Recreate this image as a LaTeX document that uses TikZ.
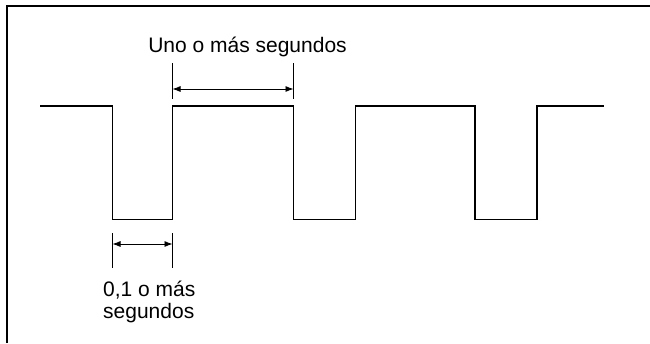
\documentclass[tikz,border=0pt]{standalone}
\usepackage{fontspec}
\setmainfont{Liberation Sans}
\usetikzlibrary{arrows.meta,positioning}
\tikzset{
  wave/.style={line width=1.6pt,black,line join=miter},
  frame/.style={line width=1.6pt,black},
  extline/.style={line width=0.8pt,black},
  dimarr/.style={{Latex[length=8pt,width=6pt]}-{Latex[length=8pt,width=6pt]},line width=0.8pt,black},
  lbl/.style={font=\fontsize{21}{22}\selectfont,align=left,inner sep=0pt}
}

\begin{document}
\begin{tikzpicture}[x=1pt,y=-1pt]
  \useasboundingbox (0,0) rectangle (650,343);
  \draw[frame] (7,343) -- (7,6) -- (650,6);
  % pulse edges
  \coordinate (f1) at (112.5,106);
  \coordinate (r1) at (172.5,106);
  \coordinate (f2) at (293.5,106);
  \coordinate (r2) at (355.5,106);
  \coordinate (f3) at (475,106);
  \coordinate (r3) at (537,106);
  \draw[wave] (40,106) -- (f1) -- ++(0,113.5) -| (r1) -- (f2) -- ++(0,113.5) -| (r2) -- (f3) -- ++(0,113.5) -| (r3) -- (604,106);
  % one second or more
  \coordinate (a1) at (172.5,89);
  \coordinate (a2) at (293.5,89);
  \draw[extline] (172.5,63) -- (172.5,99);
  \draw[extline] (293.5,63) -- (293.5,99);
  \draw[dimarr] (a1) -- (a2);
  \node[lbl,anchor=base] (upLbl) at (247.5,52) {Uno o más segundos};
  % 0.1 s or more
  \coordinate (b1) at (112.5,244);
  \coordinate (b2) at (172.5,244);
  \draw[extline] (112.5,233) -- (112.5,268);
  \draw[extline] (172.5,233) -- (172.5,268);
  \draw[dimarr] (b1) -- (b2);
  \node[lbl,anchor=base west] (lowLbl) at (103,318) {0,1 o más\\segundos};
\end{tikzpicture}
\end{document}
